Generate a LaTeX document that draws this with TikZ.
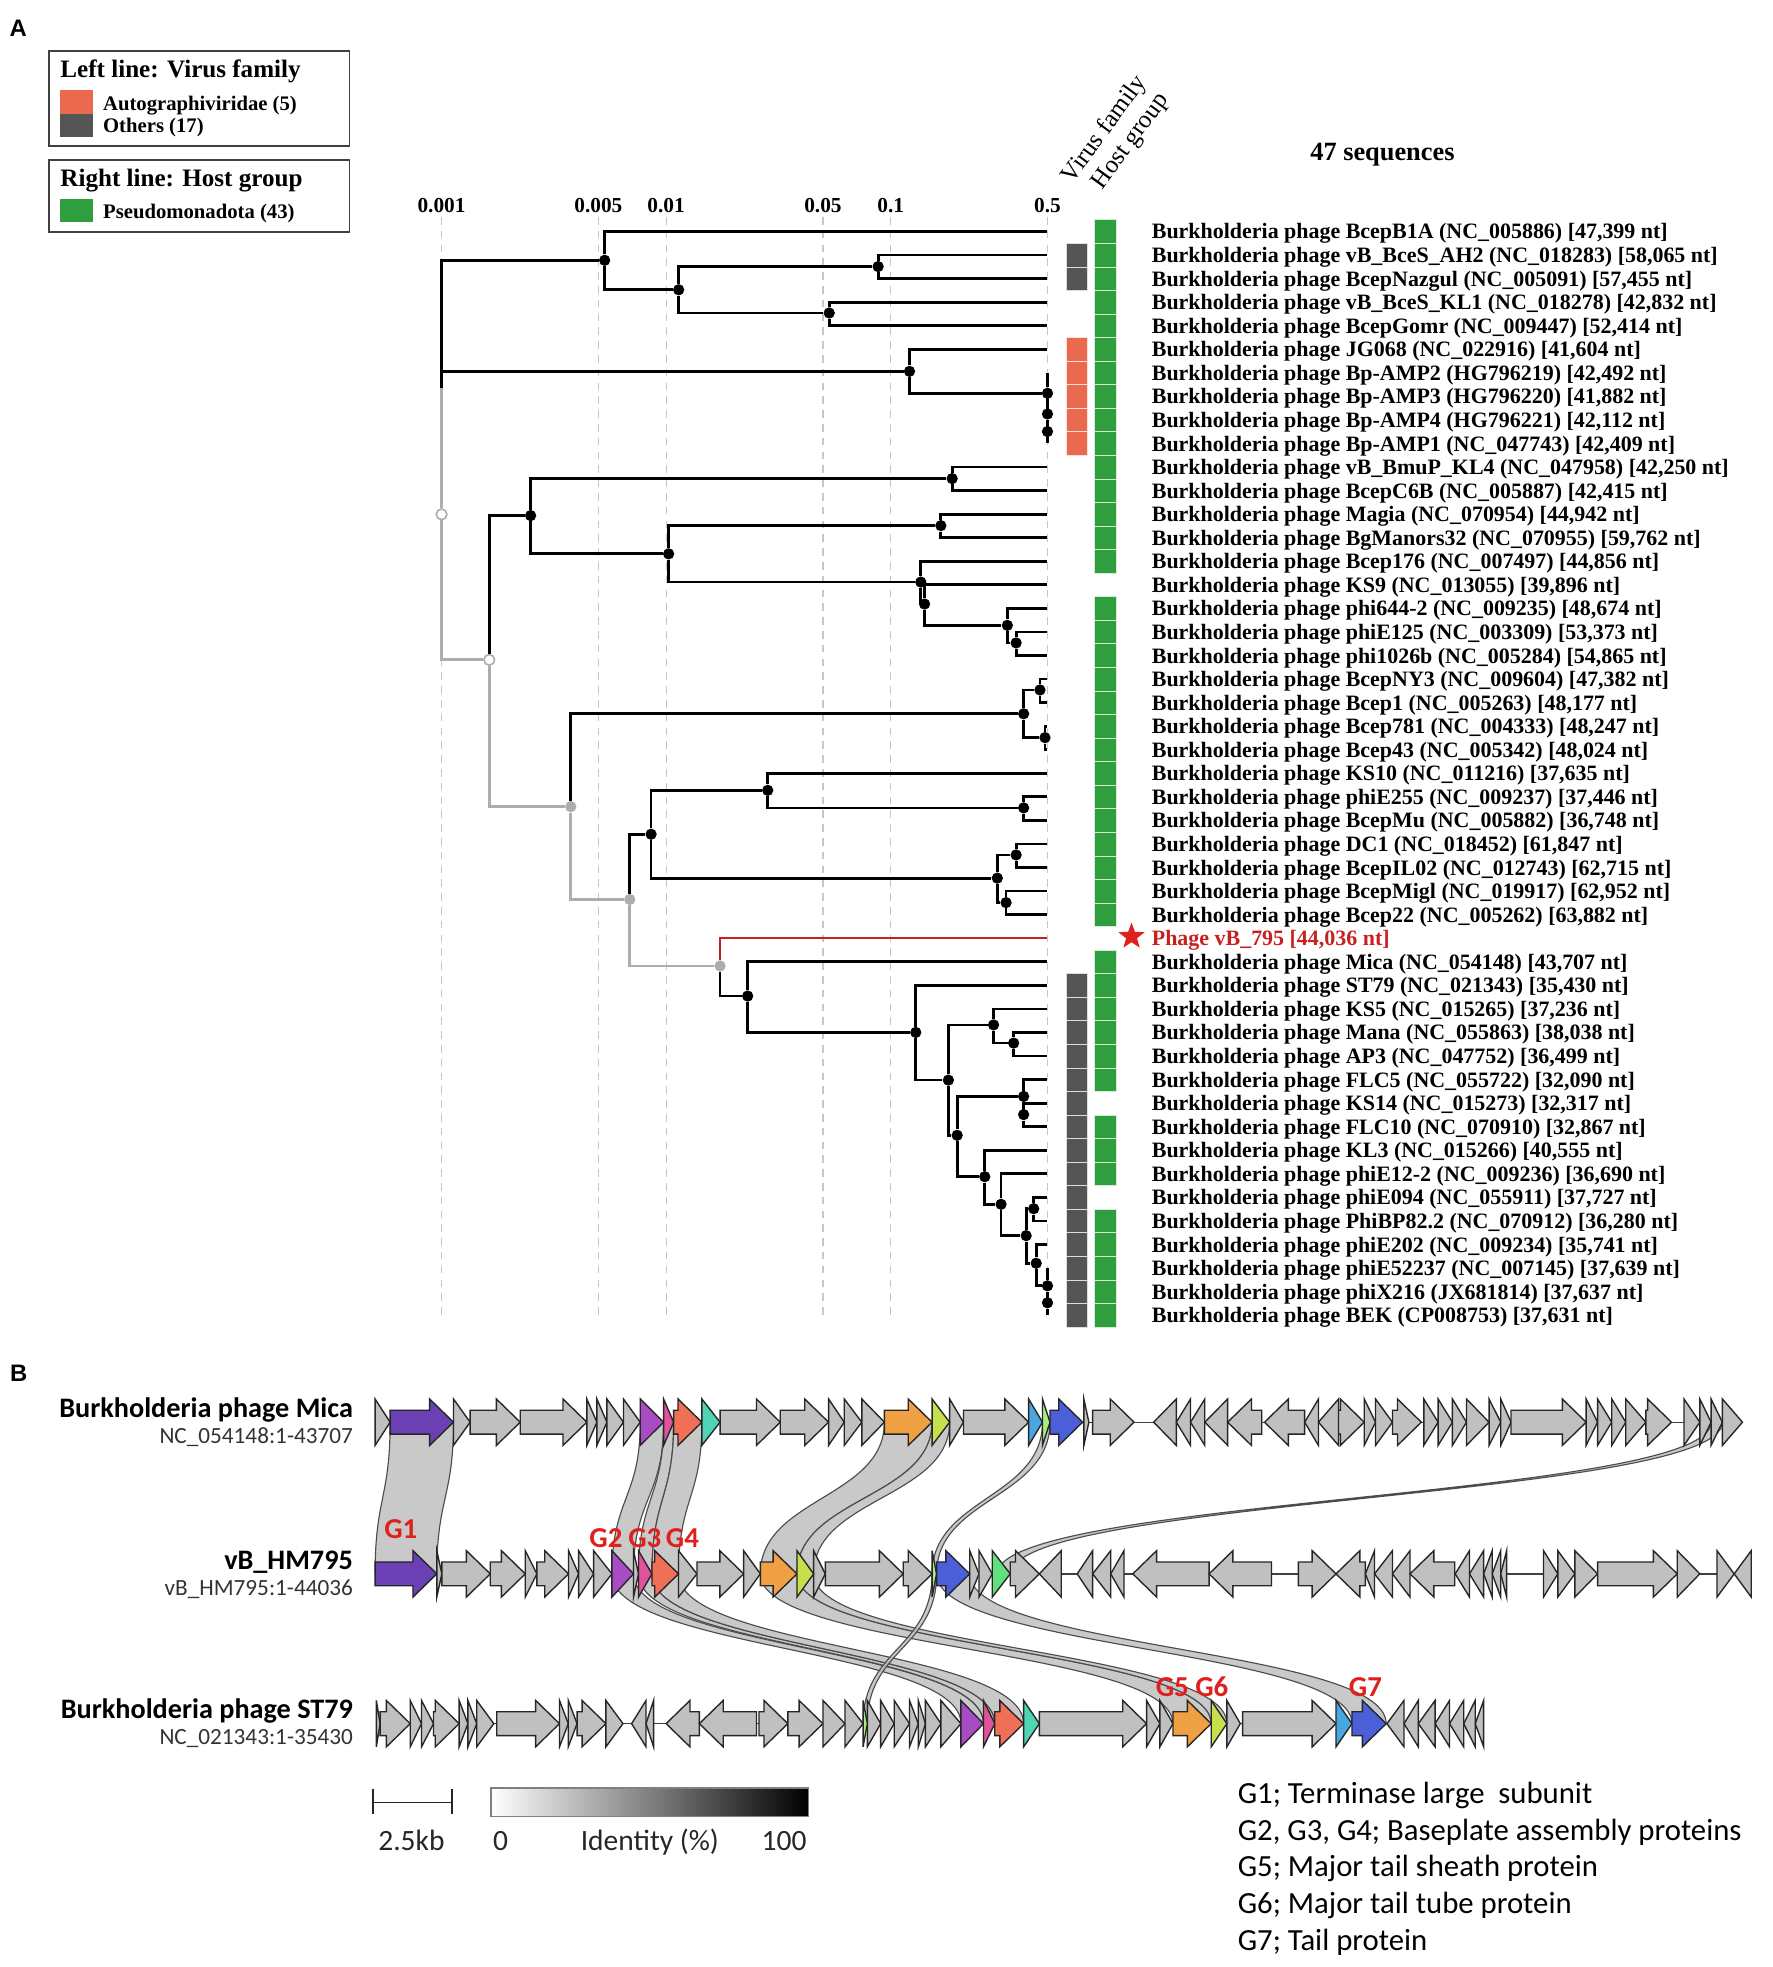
\documentclass[tikz,border=0pt]{standalone}
\usepackage{fontspec}
\setmainfont{Liberation Serif}
\newfontfamily\geneFont{Carlito}
\newfontfamily\panelFont{Liberation Sans}
\usetikzlibrary{shapes.geometric}

\definecolor{famOrange}{HTML}{EB6A4F}
\definecolor{famGray}{HTML}{555555}
\definecolor{hostGreen}{HTML}{2E9E3E}
\definecolor{treeGray}{HTML}{ADADAD}
\definecolor{phageRed}{HTML}{C8201E}
\definecolor{labelRed}{HTML}{E0201C}
\definecolor{geneGray}{HTML}{C0C0C0}
\definecolor{gPurple}{HTML}{6A40B4}
\definecolor{gViolet}{HTML}{A84CC4}
\definecolor{gPink}{HTML}{E0529C}
\definecolor{gSalmon}{HTML}{EF6F57}
\definecolor{gTeal}{HTML}{4FD4B6}
\definecolor{gOrange}{HTML}{EFA043}
\definecolor{gLime}{HTML}{C6DF4C}
\definecolor{gSky}{HTML}{4AA6DE}
\definecolor{gBlue}{HTML}{4A5FD8}
\definecolor{gGreen}{HTML}{62E07E}
\definecolor{gMint}{HTML}{A6EE80}

%% gene arrows: start, end, track y, colour
\newcommand{\geneR}[4]{%
  \pgfmathsetmacro{\hx}{max(#1,#2-19)}
  \filldraw[geneDecorate,fill=#4] (#1,#3-9.5) -- (\hx,#3-9.5) -- (\hx,#3-18.5) -- (#2,#3)
    -- (\hx,#3+18.5) -- (\hx,#3+9.5) -- (#1,#3+9.5) -- cycle;}
\newcommand{\geneL}[4]{%
  \pgfmathsetmacro{\hx}{min(#2,#1+19)}
  \filldraw[geneDecorate,fill=#4] (#2,#3-9.5) -- (\hx,#3-9.5) -- (\hx,#3-18.5) -- (#1,#3)
    -- (\hx,#3+18.5) -- (\hx,#3+9.5) -- (#2,#3+9.5) -- cycle;}
%% identity ribbon: top x1, top x2, top y, bottom x1, bottom x2, bottom y
\newcommand{\linkBand}[6]{%
  \pgfmathsetmacro{\ym}{(#3+#6)/2}
  \filldraw[bandDecorate] (#1,#3) .. controls (#1,\ym) and (#4,\ym) .. (#4,#6)
    -- (#5,#6) .. controls (#5,\ym) and (#2,\ym) .. (#2,#3) -- cycle;}

\begin{document}
\begin{tikzpicture}
[x=1pt,y=-1pt,
  dotDecorate/.style={shape=circle,inner sep=0pt,minimum size=9pt,fill=black},
  grayDotDecorate/.style={shape=circle,inner sep=0pt,minimum size=9pt,fill=treeGray},
  openDotDecorate/.style={shape=circle,inner sep=0pt,minimum size=8.5pt,draw=treeGray,fill=white,line width=1.3pt},
  branchDecorate/.style={line width=2.2pt,to path={|- (\tikztotarget)}},
  gridDecorate/.style={dash pattern=on 6pt off 5pt,line width=0.9pt,black!22},
  leafLabel/.style={font=\bfseries\fontsize{17.5}{19}\selectfont,anchor=base west,inner sep=0pt},
  axisLabel/.style={font=\bfseries\fontsize{17}{19}\selectfont,anchor=base,inner sep=0pt},
  legendTitle/.style={font=\bfseries\fontsize{20}{22}\selectfont,anchor=base west,inner sep=0pt},
  legendItem/.style={font=\bfseries\fontsize{16.5}{18}\selectfont,anchor=base west,inner sep=0pt},
  legendBox/.style={draw=black!75,line width=1.3pt},
  colHead/.style={font=\fontsize{20}{22}\selectfont,anchor=base west,inner sep=0pt,rotate=54},
  panelLabel/.style={font=\panelFont\bfseries\fontsize{19}{21}\selectfont,anchor=base,inner sep=0pt},
  geneDecorate/.style={draw=black!85,line width=1.1pt,line join=miter},
  bandDecorate/.style={fill=black!25,fill opacity=0.85,draw=black!70,line width=0.9pt},
  trackLine/.style={line width=1.1pt,black!75},
  trackName/.style={font=\geneFont\bfseries\fontsize{22.5}{25}\selectfont,anchor=base east,inner sep=0pt},
  trackAcc/.style={font=\geneFont\fontsize{18.5}{21}\selectfont,black!80,anchor=base east,inner sep=0pt},
  geneTag/.style={font=\geneFont\bfseries\fontsize{23}{25}\selectfont,labelRed,anchor=base,inner sep=0pt},
  keyText/.style={font=\geneFont\fontsize{24.5}{27}\selectfont,anchor=base west,inner sep=0pt},
  scaleText/.style={font=\geneFont\fontsize{23.5}{26}\selectfont,black!85,anchor=base,inner sep=0pt}]
\useasboundingbox (0,0) rectangle (1413,1568);

%% panel A: legends
\node[panelLabel] (panelA) at (14.5,29) {A};
\draw[legendBox] (39,40.5) rectangle (278.5,116.5);
\node[legendTitle] (famTitle) at (48,61.5) {Left line: Virus family};
\fill[famOrange] (48.2,71.8) rectangle (74.2,91.2);
\fill[famGray] (48.2,91.2) rectangle (74.2,109);
\node[legendItem] (famAuto) at (82,88) {Autographiviridae (5)};
\node[legendItem] (famOther) at (82,106) {Others (17)};
\draw[legendBox] (39,127.6) rectangle (278.5,184.7);
\node[legendTitle] (hostTitle) at (48,149) {Right line: Host group};
\fill[hostGreen] (48.2,159) rectangle (74.2,176.8);
\node[legendItem] (hostPseudo) at (82,174) {Pseudomonadota (43)};

%% distance axis
\foreach \tick/\x in {0.001/352, 0.005/477, 0.01/531, 0.05/656, 0.1/710, 0.5/835}
{
  \draw[gridDecorate] (\x,173) -- (\x,1052);
  \node[axisLabel] at (\x,169.5) {\tick};
}

%% nodes or vertices
\foreach \i in {1,...,47}
{
  \coordinate (l\i) at (835,{184.5+(\i-1)*18.78});
}
\coordinate (T) at (352,309);
\node (R) at (352,410) [openDotDecorate] {};
\node (G1) at (390,526) [openDotDecorate] {};
\foreach \nodename/\x/\y in {G2/455/643, G3/502/717, G4/574/770}
{
  \node (\nodename) at (\x,\y) [grayDotDecorate] {};
}
\foreach \nodename/\x/\y in {
  a1/482/207.5, a2/541/231, a3/700/212.5, a4/661/249.5,
  b1/725/296, b2/835/313.5, b3/835/330, b4/835/344,
  c1/423/411, c2/759/381.5, c3/533/441.5, c4/750/419, c5/734/464,
  c6/737/481.5, c7/803/498.5, c8/810/512.5,
  d1/816/569, d2/829/550, d3/833/588,
  e1/519/665, e2/612/630, e3/816/644, e4/795/700, e5/810/681.5, e6/802/719.5,
  f1/596/794, f2/730/823, f3/756/861, f4/792/817, f5/808/831.5,
  f6/763/905, f7/816/874, f8/816/888.5, f9/785/938, f10/798/960,
  f11/818/985, f12/824/963.5, f13/826/1007, f14/835/1025, f15/835/1038.5}
{
  \node (\nodename) at (\x,\y) [dotDecorate] {};
}

%% edges or lines
\path
\foreach \startnode/\endnode in {R/T, R/G1, G1/G2, G2/G3, G3/G4}
{
  (\startnode) edge[branchDecorate,treeGray] (\endnode)
};
\path
\foreach \startnode/\endnode in {
  T/a1, T/b1, a1/l1, a1/a2, a2/a3, a2/a4, a3/l2, a3/l3, a4/l4, a4/l5,
  b1/l6, b1/b2, b2/l7, b2/b3, b3/l8, b3/b4, b4/l9, b4/l10,
  G1/c1, c1/c2, c1/c3, c2/l11, c2/l12, c3/c4, c3/c5, c4/l13, c4/l14,
  c5/l15, c5/c6, c6/l16, c6/c7, c7/l17, c7/c8, c8/l18, c8/l19,
  G2/d1, d1/d2, d1/d3, d2/l20, d2/l21, d3/l22, d3/l23,
  G3/e1, e1/e2, e1/e4, e2/l24, e2/e3, e3/l25, e3/l26,
  e4/e5, e4/e6, e5/l27, e5/l28, e6/l29, e6/l30,
  G4/f1, f1/l32, f1/f2, f2/l33, f2/f3, f3/f4, f3/f6, f4/l34, f4/f5,
  f5/l35, f5/l36, f6/f7, f6/f9, f7/l37, f7/f8, f8/l38, f8/l39,
  f9/l40, f9/f10, f10/l41, f10/f11, f11/f12, f11/f13, f12/l42, f12/l43,
  f13/l44, f13/f14, f14/l45, f14/f15, f15/l46, f15/l47}
{
  (\startnode) edge[branchDecorate] (\endnode)
};
\path (G4) edge[branchDecorate,phageRed,line width=1.7pt] (l31);

%% virus family and host group strips
\foreach \from/\to/\col in {2/3/famGray, 33/47/famGray, 6/10/famOrange}
  \foreach \r in {\from,...,\to}
  {
    \filldraw[fill=\col,draw=white!80!\col,line width=0.4pt]
      (850,{175.11+(\r-1)*18.78}) rectangle (867,{193.89+(\r-1)*18.78});
  }
\foreach \from/\to in {1/15, 17/30, 32/37, 39/41, 43/47}
  \foreach \r in {\from,...,\to}
  {
    \filldraw[fill=hostGreen,draw=white!80!hostGreen,line width=0.4pt]
      (872,{175.11+(\r-1)*18.78}) rectangle (889.5,{193.89+(\r-1)*18.78});
  }
\node[colHead] (headFam) at (855,147) {Virus family};
\node[colHead] (headHost) at (879,152) {Host group};
\node[axisLabel,font=\bfseries\fontsize{21}{23}\selectfont] (seqCount) at (1102,128) {47 sequences};

%% tip labels
\foreach \txt [count=\i] in {
  {BcepB1A (NC\_005886) [47,399 nt]}, {vB\_BceS\_AH2 (NC\_018283) [58,065 nt]},
  {BcepNazgul (NC\_005091) [57,455 nt]}, {vB\_BceS\_KL1 (NC\_018278) [42,832 nt]},
  {BcepGomr (NC\_009447) [52,414 nt]}, {JG068 (NC\_022916) [41,604 nt]},
  {Bp-AMP2 (HG796219) [42,492 nt]}, {Bp-AMP3 (HG796220) [41,882 nt]},
  {Bp-AMP4 (HG796221) [42,112 nt]}, {Bp-AMP1 (NC\_047743) [42,409 nt]},
  {vB\_BmuP\_KL4 (NC\_047958) [42,250 nt]}, {BcepC6B (NC\_005887) [42,415 nt]},
  {Magia (NC\_070954) [44,942 nt]}, {BgManors32 (NC\_070955) [59,762 nt]},
  {Bcep176 (NC\_007497) [44,856 nt]}, {KS9 (NC\_013055) [39,896 nt]},
  {phi644-2 (NC\_009235) [48,674 nt]}, {phiE125 (NC\_003309) [53,373 nt]},
  {phi1026b (NC\_005284) [54,865 nt]}, {BcepNY3 (NC\_009604) [47,382 nt]},
  {Bcep1 (NC\_005263) [48,177 nt]}, {Bcep781 (NC\_004333) [48,247 nt]},
  {Bcep43 (NC\_005342) [48,024 nt]}, {KS10 (NC\_011216) [37,635 nt]},
  {phiE255 (NC\_009237) [37,446 nt]}, {BcepMu (NC\_005882) [36,748 nt]},
  {DC1 (NC\_018452) [61,847 nt]}, {BcepIL02 (NC\_012743) [62,715 nt]},
  {BcepMigl (NC\_019917) [62,952 nt]}, {Bcep22 (NC\_005262) [63,882 nt]}}
{
  \node[leafLabel] (lab\i) at (918,{190.5+(\i-1)*18.78}) {Burkholderia phage \txt};
}
\foreach \txt [count=\i from 32] in {
  {Mica (NC\_054148) [43,707 nt]}, {ST79 (NC\_021343) [35,430 nt]},
  {KS5 (NC\_015265) [37,236 nt]}, {Mana (NC\_055863) [38,038 nt]},
  {AP3 (NC\_047752) [36,499 nt]}, {FLC5 (NC\_055722) [32,090 nt]},
  {KS14 (NC\_015273) [32,317 nt]}, {FLC10 (NC\_070910) [32,867 nt]},
  {KL3 (NC\_015266) [40,555 nt]}, {phiE12-2 (NC\_009236) [36,690 nt]},
  {phiE094 (NC\_055911) [37,727 nt]}, {PhiBP82.2 (NC\_070912) [36,280 nt]},
  {phiE202 (NC\_009234) [35,741 nt]}, {phiE52237 (NC\_007145) [37,639 nt]},
  {phiX216 (JX681814) [37,637 nt]}, {BEK (CP008753) [37,631 nt]}}
{
  \node[leafLabel] (lab\i) at (918,{190.5+(\i-1)*18.78}) {Burkholderia phage \txt};
}
\node[star,star points=5,star point ratio=2.4,fill=labelRed,minimum size=22pt,inner sep=0pt] (starMark) at (902,746.5) {};
\node[leafLabel,phageRed] (lab31) at (918,753.8) {Phage vB\_795 [44,036 nt]};

%% panel B: genome maps
\node[panelLabel] (panelB) at (15,1101) {B};
\node[trackName] (micaName) at (281.5,1130) {Burkholderia phage Mica};
\node[trackAcc] (micaAcc) at (281.5,1150.5) {NC\_054148:1-43707};
\node[trackName] (hmName) at (281.5,1251.5) {vB\_HM795};
\node[trackAcc] (hmAcc) at (281.5,1271.5) {vB\_HM795:1-44036};
\node[trackName] (stName) at (281.5,1370) {Burkholderia phage ST79};
\node[trackAcc] (stAcc) at (281.5,1391) {NC\_021343:1-35430};

\draw[trackLine] (299,1133.7) -- (1389,1133.7);
\draw[trackLine] (299,1254.6) -- (1396,1254.6);
\draw[trackLine] (300,1374) -- (1183,1374);

%% identity ribbons
\foreach \a/\b/\c/\d in {311/361.5/299/348.2, 510.4/529/487.8/505, 529/537/509/519.7,
  537/559.5/519.7/540.9, 705/743/606.1/635.3, 743/757/635.3/648.6,
  831/837/743/746.6, 1364/1373/795/806}
  \linkBand{\a}{\b}{1133.7}{\c}{\d}{1254.6};
\foreach \a/\b/\c/\d in {487.8/505/766/784, 509/519.7/784/793, 519.7/540.9/793/816,
  606.1/635.3/935/965.5, 635.3/648.6/965.5/978, 743/746.6/688/691.4,
  746.6/773/1077.7/1105}
  \linkBand{\a}{\b}{1254.6}{\c}{\d}{1374};

%% Mica genes
\foreach \a/\b in {299/311, 361.5/374.8, 374.8/414.7, 414.7/467.8, 467.8/475.8,
  475.8/483.8, 483.8/497, 497/510.4, 574/622, 622/660.5, 660.5/673, 673/687,
  687/705, 757/768, 768/820, 864/868, 871/904, 1063/1087.5, 1087.5/1096.5,
  1096.5/1110, 1110/1133, 1135/1146.4, 1146.4/1157.8, 1157.8/1169, 1169/1187,
  1187/1196.3, 1196.3/1204.5, 1204.5/1264.4, 1264.4/1273.5, 1273.5/1284.8,
  1284.8/1296, 1296/1312, 1312/1332.4, 1342.4/1355, 1355/1364, 1364/1373, 1373/1389}
  \geneR{\a}{\b}{1133.7}{geneGray};
\foreach \a/\b in {919.6/937.7, 937.7/949, 949/960.4, 960.4/978.6, 978.6/1005.8,
  1008/1040, 1040/1051, 1051/1067}
  \geneL{\a}{\b}{1133.7}{geneGray};
\foreach \a/\b/\c in {311/361.5/gPurple, 510.4/529/gViolet, 529/537/gPink,
  537/559.5/gSalmon, 559.5/574/gTeal, 705/743/gOrange, 743/757/gLime,
  820/831/gSky, 831/837/gMint, 837/863/gBlue}
  \geneR{\a}{\b}{1133.7}{\c};

%% vB_HM795 genes
\foreach \a/\b in {348.2/352.2, 352.2/390.8, 390.8/418.7, 418.7/428, 428/453.2,
  453.2/461.2, 461.2/473.2, 473.2/487.8, 505/509, 540.9/555.6, 555.6/592.8,
  592.8/606.1, 648.6/657.9, 657.9/720, 720/743, 773/780.4, 780.4/791,
  805.3/828.5, 1035/1065, 1230.4/1241.8, 1241.8/1255.4, 1255.4/1273.5,
  1273.5/1337, 1337/1355, 1368.7/1382.4}
  \geneR{\a}{\b}{1254.6}{geneGray};
\foreach \a/\b in {828.5/846, 858.7/871, 871/885.4, 885.4/896, 903/963.8,
  963.8/1013.6, 1065/1088.4, 1088.4/1095.7, 1095.7/1110, 1110/1124,
  1124/1159.6, 1160/1171.4, 1171.4/1182.7, 1182.7/1189.5, 1189.5/1196.3,
  1196.3/1201, 1382.4/1396}
  \geneL{\a}{\b}{1254.6}{geneGray};
\foreach \a/\b/\c in {299/348.2/gPurple, 487.8/505/gViolet, 509/519.7/gPink,
  519.7/540.9/gSalmon, 606.1/635.3/gOrange, 635.3/648.6/gLime,
  743/746.6/gMint, 746.6/773/gBlue, 791/805.3/gGreen}
  \geneR{\a}{\b}{1254.6}{\c};

%% ST79 genes
\foreach \a/\b in {300/303, 303/327, 327/336, 336/345.6, 345.6/366, 366/373,
  373/380, 380/393.6, 396/446, 446/453, 453/460, 460/483, 483/496.6, 605/628,
  628/656, 656/673.6, 673.6/688, 691.4/702, 702/712.8, 712.8/725, 725/732,
  732/737.7, 737.7/750, 750/766, 828.5/914, 914/924.6, 924.6/935, 978/988.7,
  990.5/1065}
  \geneR{\a}{\b}{1374}{geneGray};
\foreach \a/\b in {503.5/515, 515/521, 531/557.5, 557.5/603, 1105.6/1119.2,
  1119.2/1130.6, 1130.6/1144, 1144/1155.5, 1155.5/1166.8, 1166.8/1176, 1176/1182.7}
  \geneL{\a}{\b}{1374}{geneGray};
\foreach \a/\b/\c in {688/691.4/gMint, 766/784/gViolet, 784/793/gPink,
  793/816/gSalmon, 816/828.5/gTeal, 935/965.5/gOrange, 965.5/978/gLime,
  1065/1077.7/gSky, 1077.7/1105/gBlue}
  \geneR{\a}{\b}{1374}{\c};

%% gene tags
\node[geneTag] (tagG1) at (319.5,1226.5) {G1};
\node[geneTag] (tagG2) at (483,1233.5) {G2};
\node[geneTag] (tagG3) at (514,1233.5) {G3};
\node[geneTag] (tagG4) at (544,1233.5) {G4};
\node[geneTag] (tagG5) at (934.5,1352.5) {G5};
\node[geneTag] (tagG6) at (966,1352.5) {G6};
\node[geneTag] (tagG7) at (1088.5,1352.5) {G7};

%% scale bar and identity key
\draw[line width=1.3pt,black!85] (297.5,1426) -- (297.5,1446) (297.5,1436.8) -- (360.2,1436.8)
  (360.2,1426) -- (360.2,1446);
\node[scaleText] (kbText) at (328,1475) {2.5kb};
\shade[left color=white,right color=black] (391.3,1425.2) rectangle (644.4,1447.8);
\draw[black!50,line width=1pt] (391.3,1425.2) rectangle (644.4,1447.8);
\node[scaleText] (idLow) at (399,1475) {0};
\node[scaleText] (idText) at (518,1475) {Identity (\%)};
\node[scaleText] (idHigh) at (625,1475) {100};

%% gene key
\foreach \txt [count=\i] in {{G1; Terminase large~ subunit},
  {G2, G3, G4; Baseplate assembly proteins}, {G5; Major tail sheath protein},
  {G6; Major tail tube protein}, {G7; Tail protein}}
{
  \node[keyText] (key\i) at (986.5,{1437.7+(\i-1)*29.2}) {\txt};
}
\end{tikzpicture}
\end{document}
